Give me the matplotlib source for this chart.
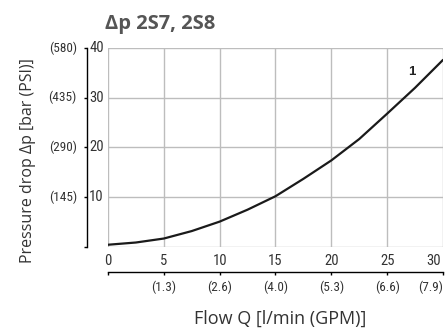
import matplotlib
matplotlib.use("Agg")
import matplotlib.pyplot as plt
import matplotlib.transforms as mtransforms

# flow [l/min] and pressure drop [bar]
flow = [0, 2.5, 5, 7.5, 10, 12.5, 15, 17.5, 20, 22.5, 25, 27.5, 30]
dp = [0.45, 0.9, 1.7, 3.2, 5.1, 7.5, 10.2, 13.7, 17.4, 21.7, 26.8, 32.0, 37.6]

x_ticks = [0, 5, 10, 15, 20, 25, 30]
gpm_labels = ['(1.3)', '(2.6)', '(4.0)', '(5.3)', '(6.6)', '(7.9)']
y_ticks = [0, 10, 20, 30, 40]
bar_labels = ['10', '20', '30', '40']
psi_labels = ['(145)', '(290)', '(435)', '(580)']

NARROW = ['Roboto Condensed', 'Archivo Narrow', 'PT Sans Narrow',
          'Liberation Sans Narrow', 'DejaVu Sans']
LIGHT = ['Open Sans', 'DejaVu Sans']
TXT = '#333333'

fig = plt.figure(figsize=(4.47, 3.28), dpi=100)
ax = fig.add_axes([0.2416, 0.247, 0.7494, 0.6067])

ax.plot(flow, dp, color='#1a1a1a', lw=1.6, solid_capstyle='round')
ax.text(27.2, 35.2, '1', fontsize=9.5, fontweight='bold', color='#222222',
        ha='center', va='center', family=['Liberation Sans', 'DejaVu Sans'])

ax.set_xlim(0, 30)
ax.set_ylim(0, 40)
for v in x_ticks:
    ax.axvline(v, color='#bdbdbd', lw=1.0, zorder=0)
for v in y_ticks:
    ax.axhline(v, color='#bdbdbd', lw=1.0, zorder=0)

for s in ['top', 'right']:
    ax.spines[s].set_visible(False)

# left axis: black spine offset from the grid, labels to the right of it
ax.spines['left'].set_position(('outward', 15))
ax.spines['left'].set_color('black')
ax.spines['left'].set_linewidth(1.0)
ax.set_yticks(y_ticks)
ax.set_yticklabels([])
ax.tick_params(axis='y', direction='out', length=2.2, width=1, color='black')

ylab_tr = mtransforms.blended_transform_factory(ax.transAxes, ax.transData)
for v, b, p in zip(y_ticks[1:], bar_labels, psi_labels):
    ax.text(-0.056, v, b, transform=ylab_tr, ha='left', va='center',
            fontsize=10.5, color=TXT, family=NARROW)
    ax.text(-0.093, v, p, transform=ylab_tr, ha='right', va='center',
            fontsize=9.5, color=TXT, family=NARROW)

# bottom axis: GPM scale on an offset black line, l/min labels above it
ax.spines['bottom'].set_position(('outward', 18))
ax.spines['bottom'].set_color('black')
ax.spines['bottom'].set_linewidth(1.0)
ax.set_xticks(x_ticks)
ax.set_xticklabels([''] + gpm_labels, fontsize=9.5, color=TXT, family=NARROW)
ax.get_xticklabels()[-1].set_ha('right')
ax.tick_params(axis='x', direction='out', length=2.2, width=1, color='black', pad=4)

xlab_tr = mtransforms.blended_transform_factory(ax.transData, ax.transAxes)
for v in x_ticks:
    ax.text(v if v < 30 else 29.85, -0.071, str(v), transform=xlab_tr,
            ha='center' if v < 30 else 'right', va='center',
            fontsize=10.5, color=TXT, family=NARROW)

fig.text(0.626, 0.012, 'Flow Q [l/min (GPM)]', ha='center', va='baseline',
         fontsize=13, color=TXT, family=LIGHT)
fig.text(0.063, 0.512, 'Pressure drop Δp [bar (PSI)]', rotation=90, ha='center', va='center',
         fontsize=11.5, color=TXT, family=LIGHT)

fig.text(0.236, 0.913, 'Δp 2S7, 2S8', ha='left', va='baseline', fontsize=14.5,
         fontweight='bold', color='#555555', family=['Open Sans', 'DejaVu Sans'])

fig.savefig('out.png', dpi=100)
